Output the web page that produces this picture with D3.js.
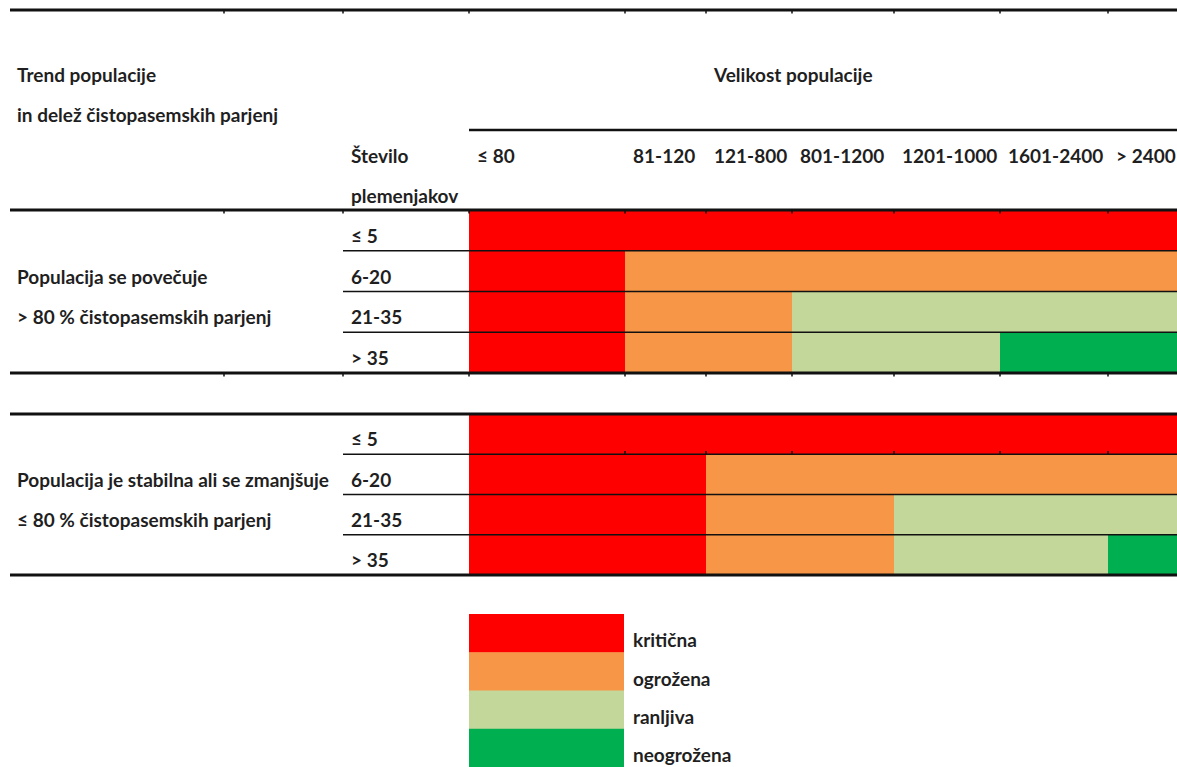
<!DOCTYPE html>
<html>
<head>
<meta charset="utf-8">
<script src="https://cdn.jsdelivr.net/npm/d3@7"></script>
<style>
  html, body { margin: 0; padding: 0; background: #fff; }
  svg text { font-family: Lato, "Open Sans", sans-serif; font-weight: bold; fill: #1f1f1f; font-size: 19px; }
</style>
</head>
<body>
<svg id="chart" width="1177" height="767"></svg>
<script>
// ---------- data ----------
const titleLeft = ["Trend populacije", "in delež čistopasemskih parjenj"];
const titleTop = "Velikost populacije";
const breederHeader = ["Število", "plemenjakov"];
const sizeCategories = ["≤ 80", "81-120", "121-800", "801-1200", "1201-1000", "1601-2400", "> 2400"];
const breederCategories = ["≤ 5", "6-20", "21-35", "> 35"];
const statusLevels = ["kritična", "ogrožena", "ranljiva", "neogrožena"];
const groupLabels = [
  ["Populacija se povečuje", "> 80 % čistopasemskih parjenj"],
  ["Populacija je stabilna ali se zmanjšuje", "≤ 80 % čistopasemskih parjenj"]
];
// status index per breeder row (rows) and size category (columns)
const statusIncreasing = [
  [0, 0, 0, 0, 0, 0, 0],
  [0, 1, 1, 1, 1, 1, 1],
  [0, 1, 1, 2, 2, 2, 2],
  [0, 1, 1, 2, 2, 3, 3]
];
const statusStable = [
  [0, 0, 0, 0, 0, 0, 0],
  [0, 0, 1, 1, 1, 1, 1],
  [0, 0, 1, 1, 2, 2, 2],
  [0, 0, 1, 1, 2, 2, 3]
];

// ---------- layout ----------
const statusColors = ["#FF0000", "#F79646", "#C4D79B", "#00B050"];
const colEdges = [469, 625, 706, 792, 894, 1000, 1108, 1177];
const tableLeft = 10, tableRight = 1177;
const labelColX = 343, splitColX = 224;
const groupTops = [210, 414];
const groupBottoms = [373, 575];

const svg = d3.select("#chart");

const x = d3.scaleOrdinal().domain(sizeCategories).range(colEdges.slice(0, -1));
const w = d3.scaleOrdinal().domain(sizeCategories).range(d3.pairs(colEdges).map(p => p[1] - p[0]));
const color = d3.scaleOrdinal().domain(d3.range(statusLevels.length)).range(statusColors);

// Header texts
svg.selectAll("text.tl").data(titleLeft).join("text")
  .attr("x", 17).attr("y", (d, i) => 82 + i * 40).text(d => d);
svg.append("text").attr("x", 714).attr("y", 82).text(titleTop);
svg.selectAll("text.bh").data(breederHeader).join("text")
  .attr("x", 351).attr("y", (d, i) => 163 + i * 40).text(d => d);
svg.selectAll("text.sc").data(sizeCategories).join("text")
  .attr("x", d => x(d) + 8).attr("y", 163).text(d => d);

// Groups
const groups = [statusIncreasing, statusStable];
groups.forEach((matrix, gi) => {
  const y = d3.scaleBand().domain(breederCategories)
    .range([groupTops[gi], groupBottoms[gi]]).paddingInner(0).paddingOuter(0);
  const g = svg.append("g");
  const cells = [];
  matrix.forEach((row, ri) => row.forEach((s, ci) => cells.push({ b: breederCategories[ri], c: sizeCategories[ci], s })));
  g.selectAll("rect").data(cells).join("rect")
    .attr("x", d => x(d.c)).attr("y", d => y(d.b))
    .attr("width", d => w(d.c) + 0.5).attr("height", y.bandwidth() + 0.5)
    .attr("fill", d => color(d.s));
  // row separators
  g.selectAll("line.sep").data(breederCategories.slice(1)).join("line")
    .attr("x1", labelColX).attr("x2", tableRight)
    .attr("y1", d => y(d)).attr("y2", d => y(d))
    .attr("stroke", "#111").attr("stroke-width", 1.6);
  // row labels
  g.selectAll("text.rl").data(breederCategories).join("text")
    .attr("x", 351).attr("y", d => y(d) + y.bandwidth() - 8).text(d => d);
  // group labels
  g.selectAll("text.gl").data(groupLabels[gi]).join("text")
    .attr("x", 17).attr("y", (d, i) => y(breederCategories[1 + i]) + y.bandwidth() - 8).text(d => d);
  // thick borders
  [groupTops[gi], groupBottoms[gi]].forEach(yy => {
    g.append("line").attr("x1", tableLeft).attr("x2", tableRight)
      .attr("y1", yy).attr("y2", yy).attr("stroke", "#111").attr("stroke-width", 3);
  });
});

// top line and header line
svg.append("line").attr("x1", tableLeft).attr("x2", tableRight).attr("y1", 10).attr("y2", 10)
  .attr("stroke", "#111").attr("stroke-width", 3);
svg.append("line").attr("x1", colEdges[0]).attr("x2", tableRight).attr("y1", 130).attr("y2", 130)
  .attr("stroke", "#111").attr("stroke-width", 2.5);

// small tick marks at cell boundaries
const tickXs = [splitColX, labelColX].concat(colEdges.slice(0, -1));
[10, 210, 373].forEach(yy => {
  svg.selectAll(null).data(tickXs).join("line")
    .attr("x1", d => d).attr("x2", d => d).attr("y1", yy).attr("y2", yy + 3.5)
    .attr("stroke", "#111").attr("stroke-width", 1.5);
});
svg.selectAll(null).data(colEdges.slice(1, -1)).join("line")
  .attr("x1", d => d).attr("x2", d => d).attr("y1", 451).attr("y2", 454)
  .attr("stroke", "#111").attr("stroke-width", 1.5);

// legend
const ly = d3.scaleBand().domain(statusLevels).range([614, 767]);
svg.selectAll("rect.leg").data(statusLevels).join("rect")
  .attr("x", 469).attr("y", d => ly(d)).attr("width", 155).attr("height", ly.bandwidth() + 0.5)
  .attr("fill", (d, i) => statusColors[i]);
svg.selectAll("text.leg").data(statusLevels).join("text")
  .attr("x", 633).attr("y", d => ly(d) + ly.bandwidth() - 5).text(d => d);
</script>
</body>
</html>
